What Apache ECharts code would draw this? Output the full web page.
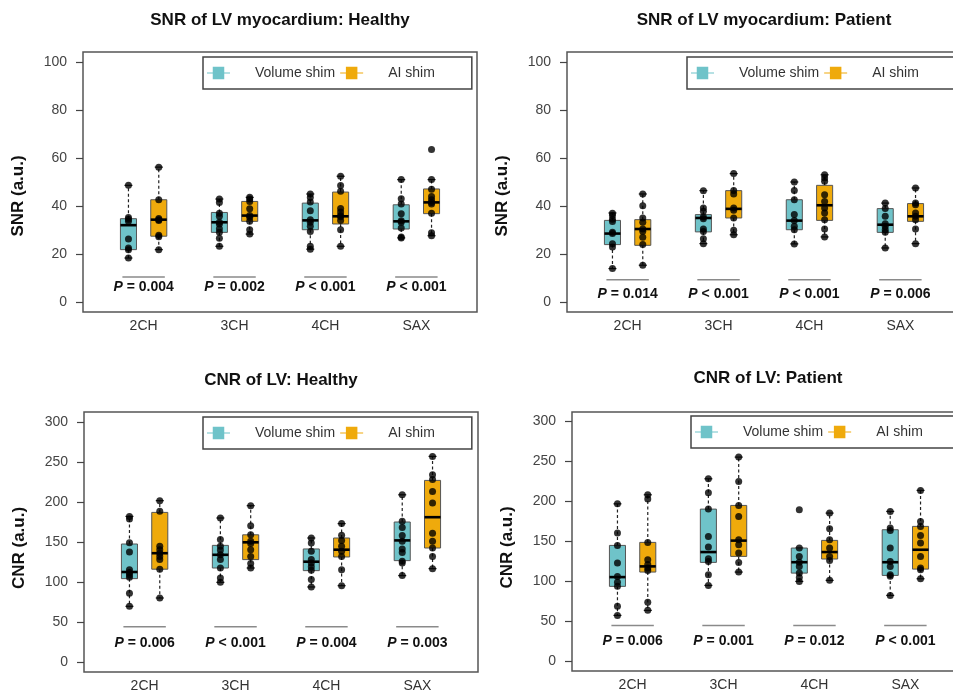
<!DOCTYPE html>
<html>
<head>
<meta charset="utf-8">
<script src="https://cdn.jsdelivr.net/npm/echarts@6/dist/echarts.min.js"></script>
<style>
  html, body { margin: 0; padding: 0; background: #fff; }
  #chart { width: 953px; height: 691px; }
</style>
</head>
<body>
<div id="chart"></div>
<script>
const groups = ['2CH', '3CH', '4CH', 'SAX'];

// box stats: [lower whisker, Q1, median, Q3, upper whisker]
// SNR of LV myocardium: Healthy
const snrHealthyVolStats = [
  [18.3, 21.8, 32.0, 34.7, 48.6],
  [23.2, 29.0, 33.2, 37.3, 42.9],
  [22.0, 30.1, 34.0, 41.2, 45.0],
  [26.7, 30.4, 33.6, 40.5, 51.0]
];
const snrHealthyVolPts = [
  [48.6, 35.2, 34.5, 33.6, 26.2, 22.5, 21.8, 18.3],
  [42.9, 41.5, 37.0, 35.7, 33.2, 32.5, 30.5, 29.0, 26.5, 23.2],
  [45.0, 43.5, 41.7, 38.0, 34.3, 33.2, 31.5, 29.4, 23.2, 22.0],
  [51.0, 43.0, 40.8, 36.8, 33.8, 33.2, 30.8, 27.1, 26.7]
];
const snrHealthyAiStats = [
  [21.8, 27.4, 34.3, 42.6, 56.2],
  [28.3, 33.6, 36.0, 41.9, 43.6],
  [23.2, 32.5, 35.7, 45.8, 52.4],
  [27.6, 36.8, 41.5, 47.1, 51.0]
];
const snrHealthyAiPts = [
  [56.2, 42.6, 34.8, 34.3, 34.0, 27.8, 27.2, 21.8],
  [43.6, 42.9, 41.9, 38.8, 36.0, 35.3, 33.6, 30.1, 28.3],
  [52.4, 48.5, 46.1, 38.9, 37.5, 36.0, 35.5, 33.9, 30.1, 23.2],
  [63.5, 51.0, 47.0, 44.0, 42.6, 41.5, 40.8, 37.0, 28.8, 27.6]
];
const snrHealthyP = ['= 0.004', '= 0.002', '< 0.001', '< 0.001'];

// SNR of LV myocardium: Patient
const snrPatientVolStats = [
  [13.9, 23.9, 28.5, 34.0, 37.1],
  [24.3, 29.2, 35.0, 36.4, 46.4],
  [24.2, 30.1, 33.9, 42.6, 50.0],
  [22.5, 29.0, 32.2, 38.9, 41.2]
];
const snrPatientVolPts = [
  [37.0, 36.0, 34.5, 33.5, 29.0, 28.5, 24.3, 22.9, 13.9],
  [46.4, 39.2, 37.8, 35.4, 34.7, 30.4, 29.4, 26.3, 24.3],
  [50.0, 46.5, 42.6, 36.4, 33.9, 31.5, 30.1, 24.2],
  [41.2, 39.0, 35.7, 32.6, 31.5, 30.1, 29.0, 22.5]
];
const snrPatientAiStats = [
  [15.3, 23.6, 30.4, 34.3, 45.0],
  [28.0, 35.0, 38.8, 46.4, 53.5],
  [27.1, 34.0, 40.3, 48.6, 53.0],
  [24.3, 33.6, 35.7, 41.0, 47.5]
];
const snrPatientAiPts = [
  [45.0, 40.1, 35.0, 33.2, 30.4, 29.5, 27.0, 23.9, 15.3],
  [53.5, 46.5, 45.0, 39.2, 38.2, 35.0, 29.9, 28.0],
  [53.0, 51.7, 50.3, 44.7, 41.9, 39.2, 37.1, 34.3, 30.4, 27.1],
  [47.5, 41.2, 40.5, 37.1, 35.7, 34.3, 30.4, 24.3]
];
const snrPatientP = ['= 0.014', '< 0.001', '< 0.001', '= 0.006'];

// CNR of LV: Healthy
const cnrHealthyVolStats = [
  [69.6, 104.2, 112.5, 147.5, 182.0],
  [99.6, 117.5, 134.0, 145.8, 180.0],
  [93.8, 114.2, 125.4, 141.3, 155.0],
  [108.0, 126.7, 152.0, 175.0, 209.0]
];
const cnrHealthyVolPts = [
  [182.0, 178.8, 149.0, 137.5, 115.4, 112.0, 109.0, 106.0, 86.0, 69.6],
  [180.0, 153.0, 144.6, 140.0, 134.0, 128.0, 117.5, 105.0, 99.6],
  [155.0, 148.8, 138.3, 128.0, 123.8, 119.0, 114.6, 103.0, 93.8],
  [209.0, 175.8, 168.0, 158.0, 150.8, 141.3, 137.0, 125.8, 123.8, 108.0]
];
const cnrHealthyAiStats = [
  [80.0, 116.0, 136.0, 187.0, 201.7],
  [117.5, 128.0, 149.6, 159.0, 195.4],
  [95.4, 131.3, 140.4, 155.0, 173.0],
  [116.7, 142.5, 181.0, 227.0, 257.0]
];
const cnrHealthyAiPts = [
  [201.7, 188.3, 144.6, 140.4, 136.0, 132.0, 128.0, 116.0, 80.0],
  [195.4, 170.4, 159.0, 150.8, 148.0, 140.4, 132.0, 123.0, 117.5],
  [173.0, 158.3, 152.0, 144.6, 138.3, 132.0, 115.4, 95.4],
  [257.0, 234.0, 228.0, 213.0, 198.8, 161.0, 150.8, 142.5, 132.0, 116.7]
];
const cnrHealthyP = ['= 0.006', '< 0.001', '= 0.004', '= 0.003'];

// CNR of LV: Patient
const cnrPatientVolStats = [
  [57.5, 93.8, 105.4, 145.0, 197.0],
  [95.0, 123.8, 136.7, 190.4, 228.3],
  [100.0, 110.4, 124.0, 141.7, 141.7],
  [82.5, 107.5, 124.0, 164.6, 187.5]
];
const cnrPatientVolPts = [
  [197.0, 160.4, 145.0, 123.0, 106.0, 98.8, 93.8, 68.8, 57.5],
  [228.3, 211.0, 190.4, 156.0, 143.0, 128.3, 125.0, 108.3, 95.0],
  [189.6, 141.7, 131.3, 124.0, 118.8, 110.4, 105.0, 100.0],
  [187.5, 166.7, 163.8, 141.7, 125.0, 118.8, 108.3, 106.3, 82.5]
];
const cnrPatientAiStats = [
  [63.8, 111.7, 118.8, 148.8, 208.3],
  [111.7, 131.3, 151.0, 195.0, 255.4],
  [101.3, 128.0, 136.7, 151.3, 185.4],
  [103.3, 115.4, 139.6, 168.8, 213.8]
];
const cnrPatientAiPts = [
  [208.3, 203.0, 148.8, 127.0, 121.0, 116.7, 113.8, 73.8, 63.8],
  [255.4, 225.0, 195.0, 181.3, 152.0, 145.8, 135.4, 123.8, 111.7],
  [185.4, 165.8, 152.0, 141.7, 131.3, 126.3, 101.3],
  [213.8, 175.0, 168.8, 157.5, 148.0, 131.3, 116.7, 114.6, 103.3]
];
const cnrPatientP = ['= 0.006', '= 0.001', '= 0.012', '< 0.001'];

const snrTicks = [0, 20, 40, 60, 80, 100];
const cnrTicks = [0, 50, 100, 150, 200, 250, 300];

const FONT = '"Liberation Sans", Arial, sans-serif';
const VOL_COLOR = '#6fc3c9';
const AI_COLOR = '#efaa0c';
const BOX_WIDTH = 0.53;
const LEGEND_ICON = 'path://M0,6 L6,6 L6,0 L18,0 L18,6 L24,6 L24,7 L18,7 L18,13 L6,13 L6,7 L0,7 Z';

const panels = [
  {
    title: 'SNR of LV myocardium: Healthy', yName: 'SNR (a.u.)', ticks: snrTicks,
    vol: [snrHealthyVolStats, snrHealthyVolPts], ai: [snrHealthyAiStats, snrHealthyAiPts], p: snrHealthyP,
    grid: { left: 83, top: 52, width: 394, height: 260 }, yMin: -4.2, yMax: 104.2,
    titleX: 280, titleY: 12, legend: { left: 203, top: 57 }, nameShift: 28, lineY: 10.4, textGap: 10
  },
  {
    title: 'SNR of LV myocardium: Patient', yName: 'SNR (a.u.)', ticks: snrTicks,
    vol: [snrPatientVolStats, snrPatientVolPts], ai: [snrPatientAiStats, snrPatientAiPts], p: snrPatientP,
    grid: { left: 567, top: 52, width: 394, height: 260 }, yMin: -4.2, yMax: 104.2,
    titleX: 764, titleY: 12, legend: { left: 687, top: 57 }, nameShift: 28, lineY: 9.2, textGap: 14
  },
  {
    title: 'CNR of LV: Healthy', yName: 'CNR (a.u.)', ticks: cnrTicks,
    vol: [cnrHealthyVolStats, cnrHealthyVolPts], ai: [cnrHealthyAiStats, cnrHealthyAiPts], p: cnrHealthyP,
    grid: { left: 84, top: 412, width: 394, height: 260 }, yMin: -12.5, yMax: 312.5,
    titleX: 281, titleY: 372, legend: { left: 203, top: 417 }, nameShift: 12, lineY: 44, textGap: 16.5
  },
  {
    title: 'CNR of LV: Patient', yName: 'CNR (a.u.)', ticks: cnrTicks,
    vol: [cnrPatientVolStats, cnrPatientVolPts], ai: [cnrPatientAiStats, cnrPatientAiPts], p: cnrPatientP,
    grid: { left: 572, top: 412, width: 394, height: 259 }, yMin: -12, yMax: 311.8,
    titleX: 768, titleY: 370, legend: { left: 691, top: 416 }, nameShift: 12, lineY: 45, textGap: 16
  }
];

function boxRenderer(color) {
  return function (params, api) {
    const x = api.value(0);
    const lo = api.coord([x, api.value(1)]);
    const q1 = api.coord([x, api.value(2)]);
    const med = api.coord([x, api.value(3)]);
    const q3 = api.coord([x, api.value(4)]);
    const hi = api.coord([x, api.value(5)]);
    const w = api.size([BOX_WIDTH, 0])[0];
    const cx = q1[0];
    const dash = { stroke: '#222', lineWidth: 1.2, lineDash: [3, 2.5] };
    const solid = { stroke: '#222', lineWidth: 1.2 };
    return {
      type: 'group',
      children: [
        { type: 'line', shape: { x1: cx, y1: q3[1], x2: cx, y2: hi[1] }, style: dash },
        { type: 'line', shape: { x1: cx, y1: q1[1], x2: cx, y2: lo[1] }, style: dash },
        { type: 'line', shape: { x1: cx - w / 4, y1: hi[1], x2: cx + w / 4, y2: hi[1] }, style: solid },
        { type: 'line', shape: { x1: cx - w / 4, y1: lo[1], x2: cx + w / 4, y2: lo[1] }, style: solid },
        {
          type: 'rect',
          shape: { x: cx - w / 2, y: q3[1], width: w, height: q1[1] - q3[1] },
          style: { fill: color, stroke: '#555', lineWidth: 1 }
        },
        { type: 'line', shape: { x1: cx - w / 2, y1: med[1], x2: cx + w / 2, y2: med[1] }, style: { stroke: '#000', lineWidth: 2.6 } }
      ]
    };
  };
}

function pRenderer(panel) {
  return function (params, api) {
    const x = api.value(0);
    const a = api.coord([x - 0.7, panel.lineY]);
    const b = api.coord([x + 0.7, panel.lineY]);
    return {
      type: 'group',
      children: [
        { type: 'line', shape: { x1: a[0], y1: a[1], x2: b[0], y2: b[1] }, style: { stroke: '#8a8a8a', lineWidth: 1.5 } },
        {
          type: 'text',
          x: (a[0] + b[0]) / 2,
          y: a[1] + panel.textGap,
          style: {
            text: '{i|P} ' + panel.p[params.dataIndex],
            align: 'center',
            verticalAlign: 'middle',
            fill: '#111',
            fontSize: 14,
            fontWeight: 'bold',
            fontFamily: FONT,
            rich: { i: { fontStyle: 'italic', fontWeight: 'bold', fontSize: 14, fontFamily: FONT, fill: '#111' } }
          }
        }
      ]
    };
  };
}

const option = {
  animation: false,
  backgroundColor: '#fff',
  title: [],
  legend: [],
  grid: [],
  xAxis: [],
  yAxis: [],
  series: []
};

panels.forEach((panel, i) => {
  option.title.push({
    text: panel.title,
    left: panel.titleX,
    top: panel.titleY,
    textAlign: 'center',
    padding: 0,
    textStyle: { fontSize: 17, fontWeight: 'bold', color: '#111', fontFamily: FONT }
  });

  option.legend.push({
    left: panel.legend.left,
    top: panel.legend.top,
    width: 320,
    orient: 'horizontal',
    data: ['Volume shim', 'AI shim'],
    icon: LEGEND_ICON,
    itemWidth: 23,
    itemHeight: 13,
    itemGap: 5,
    padding: [9, 37, 9, 4],
    borderColor: '#444',
    borderWidth: 1.5,
    selectedMode: false,
    textStyle: { fontSize: 14, color: '#333', fontFamily: FONT, padding: [0, 0, 0, 20] }
  });

  option.grid.push(Object.assign({
    show: true,
    borderColor: '#555',
    borderWidth: 1.5,
    backgroundColor: 'transparent',
    containLabel: false,
    outerBoundsMode: 'none'
  }, panel.grid));

  option.xAxis.push({
    type: 'value',
    gridIndex: i,
    min: -0.5,
    max: 12.5,
    axisLine: { show: false, onZero: false },
    axisTick: { show: false },
    splitLine: { show: false },
    axisLabel: {
      customValues: groups.map((g, k) => 3 * k + 1.5),
      formatter: (v) => groups[Math.round((v - 1.5) / 3)],
      margin: 7,
      fontSize: 14,
      color: '#333',
      fontFamily: FONT
    }
  });

  option.yAxis.push({
    type: 'value',
    gridIndex: i,
    min: panel.yMin,
    max: panel.yMax,
    name: panel.yName,
    nameLocation: 'middle',
    nameGap: 56,
    nameTextStyle: {
      fontSize: 17, fontWeight: 'bold', color: '#111', fontFamily: FONT,
      padding: [0, panel.nameShift, 0, 0]
    },
    axisLine: { show: false, onZero: false },
    splitLine: { show: false },
    axisTick: { show: true, inside: false, length: 7, customValues: panel.ticks, lineStyle: { color: '#444', width: 1.2 } },
    axisLabel: { customValues: panel.ticks, margin: 16, fontSize: 14, color: '#444', fontFamily: FONT }
  });

  [['Volume shim', panel.vol, VOL_COLOR, 1], ['AI shim', panel.ai, AI_COLOR, 2]].forEach(([name, d, color, off]) => {
    const [stats, pts] = d;
    option.series.push({
      name: name,
      type: 'custom',
      xAxisIndex: i,
      yAxisIndex: i,
      itemStyle: { color: color },
      encode: { x: 0, y: [1, 2, 3, 4, 5] },
      renderItem: boxRenderer(color),
      data: stats.map((s, k) => [3 * k + off].concat(s)),
      z: 2
    });
    const dots = [];
    pts.forEach((list, k) => list.forEach((v) => dots.push([3 * k + off, v])));
    option.series.push({
      name: name + ' points',
      type: 'scatter',
      xAxisIndex: i,
      yAxisIndex: i,
      symbol: 'circle',
      symbolSize: 7,
      itemStyle: { color: '#000' },
      data: dots,
      z: 3
    });
  });

  option.series.push({
    name: 'p' + i,
    type: 'custom',
    xAxisIndex: i,
    yAxisIndex: i,
    silent: true,
    encode: { x: 0, y: 1 },
    renderItem: pRenderer(panel),
    data: groups.map((g, k) => [3 * k + 1.5, panel.lineY]),
    z: 2
  });
});

const chart = echarts.init(document.getElementById('chart'), null, { renderer: 'canvas' });
chart.setOption(option);
</script>
</body>
</html>
